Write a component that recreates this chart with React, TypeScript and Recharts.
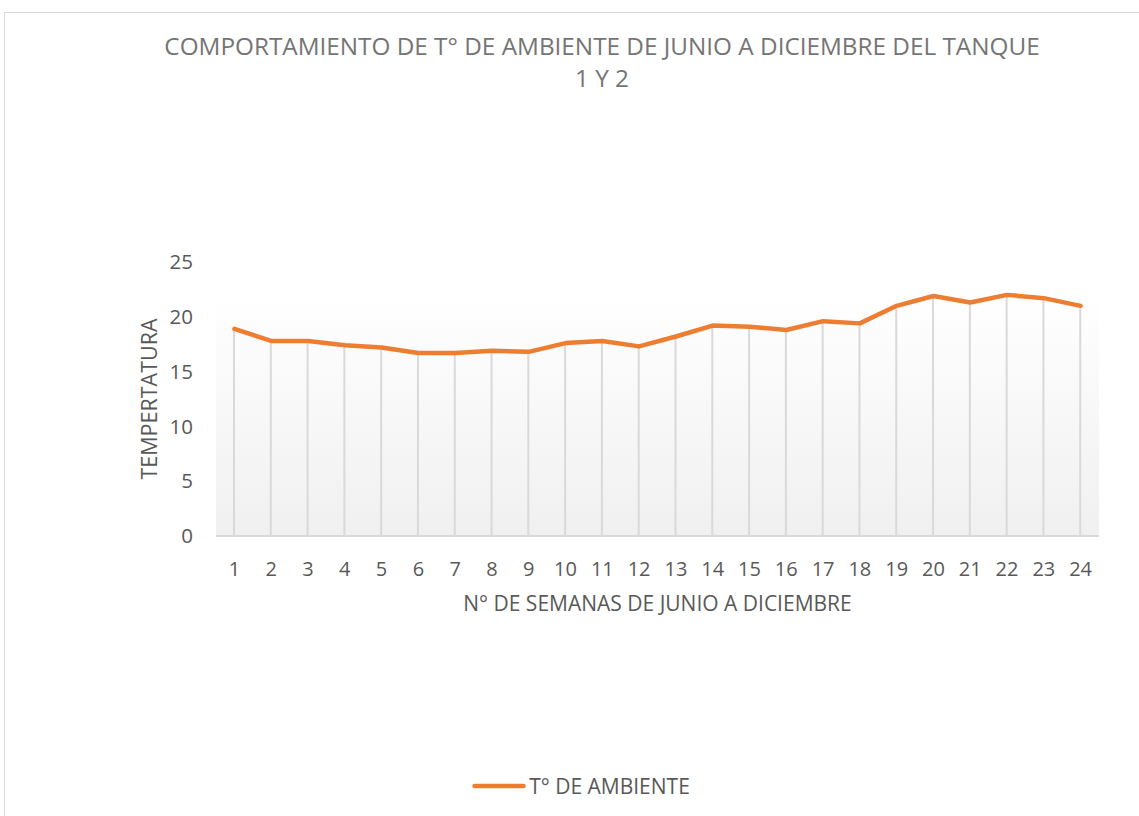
import React from 'react';
import { ComposedChart, Line, Bar, XAxis, YAxis, ReferenceArea, Legend, Label } from 'recharts';

// semanas 1..24 (junio a diciembre)
const weeks = ['1', '2', '3', '4', '5', '6', '7', '8', '9', '10', '11', '12', '13', '14', '15', '16', '17', '18', '19', '20', '21', '22', '23', '24'];
const tempAmbiente = [18.9, 17.8, 17.8, 17.4, 17.2, 16.7, 16.7, 16.9, 16.8, 17.6, 17.8, 17.3, 18.2, 19.2, 19.1, 18.8, 19.6, 19.4, 21.0, 21.9, 21.3, 22.0, 21.7, 21.0];
const yTicks = [0, 5, 10, 15, 20, 25];

const data = weeks.map((w, i) => ({ semana: w, t: tempAmbiente[i] }));
const maxT = Math.max(...tempAmbiente);

const FONT = '"Open Sans", sans-serif';
const ORANGE = '#ED7D31';

const renderLegend = () => (
  <div style={{ display: 'flex', alignItems: 'center', justifyContent: 'center', fontFamily: FONT, fontSize: 21, color: '#595959' }}>
    <svg width={54} height={10} style={{ marginRight: 3 }}>
      <line x1={2.5} y1={5} x2={51.5} y2={5} stroke={ORANGE} strokeWidth={4.5} strokeLinecap="round" />
    </svg>
    <span>T° DE AMBIENTE</span>
  </div>
);

export default function App() {
  return (
    <div style={{ position: 'absolute', left: 0, top: 0, width: 1139, height: 816, overflow: 'hidden', background: '#fff' }}>
      {/* chart frame */}
      <div style={{ position: 'absolute', left: 4, top: 12, width: 1160, height: 820, border: '1px solid #d9d9d9' }} />
      <div style={{ position: 'absolute', left: 0, top: 30, width: 1204, textAlign: 'center', fontFamily: FONT, fontSize: 24.3, lineHeight: '32px', color: '#757575' }}>
        COMPORTAMIENTO DE T° DE AMBIENTE DE JUNIO A DICIEMBRE DEL TANQUE<br />1 Y 2
      </div>
      <ComposedChart
        width={1139}
        height={816}
        data={data}
        margin={{ top: 262, right: 40, bottom: 200, left: 136 }}
        barCategoryGap={0}
        style={{ position: 'absolute', left: 0, top: 0 }}
      >
        <defs>
          <linearGradient id="plotFill" x1="0" y1="0" x2="0" y2="1">
            <stop offset="0%" stopColor="#ffffff" />
            <stop offset="100%" stopColor="#f0f0f0" />
          </linearGradient>
        </defs>
        <ReferenceArea y1={0} y2={maxT} fill="url(#plotFill)" fillOpacity={1} stroke="none" />
        <XAxis
          dataKey="semana"
          height={80}
          axisLine={{ stroke: '#d9d9d9', strokeWidth: 2 }}
          tickLine={false}
          tickSize={0}
          tickMargin={26}
          interval={0}
          tick={{ fill: '#595959', fontSize: 20, fontFamily: FONT }}
        >
          <Label value="N° DE SEMANAS DE JUNIO A DICIEMBRE" position="insideBottom" offset={5} style={{ fill: '#595959', fontSize: 21, fontFamily: FONT }} />
        </XAxis>
        <YAxis
          width={80}
          domain={[0, 25]}
          ticks={yTicks}
          axisLine={false}
          tickLine={false}
          tickSize={0}
          tickMargin={23}
          tick={{ fill: '#595959', fontSize: 20.5, fontFamily: FONT }}
        >
          <Label
            content={(props: any) => {
              const vb = props.viewBox;
              const x = vb.x + 12;
              const y = vb.y + vb.height / 2;
              return (
                <text x={x} y={y} transform={`rotate(-90, ${x}, ${y})`} textAnchor="middle" dominantBaseline="central" fill="#595959" fontSize={21.5} fontFamily={FONT}>
                  TEMPERTATURA
                </text>
              );
            }}
          />
        </YAxis>
        <Bar dataKey="t" barSize={2} fill="#d9d9d9" isAnimationActive={false} legendType="none" />
        <Line type="linear" dataKey="t" name="T° DE AMBIENTE" stroke={ORANGE} strokeWidth={4.5} strokeLinecap="round" strokeLinejoin="round" dot={false} activeDot={false} isAnimationActive={false} />
        <Legend
          layout="horizontal"
          verticalAlign="middle"
          align="center"
          content={renderLegend}
          wrapperStyle={{ top: 772, left: 0, width: 1162 }}
        />
      </ComposedChart>
    </div>
  );
}
